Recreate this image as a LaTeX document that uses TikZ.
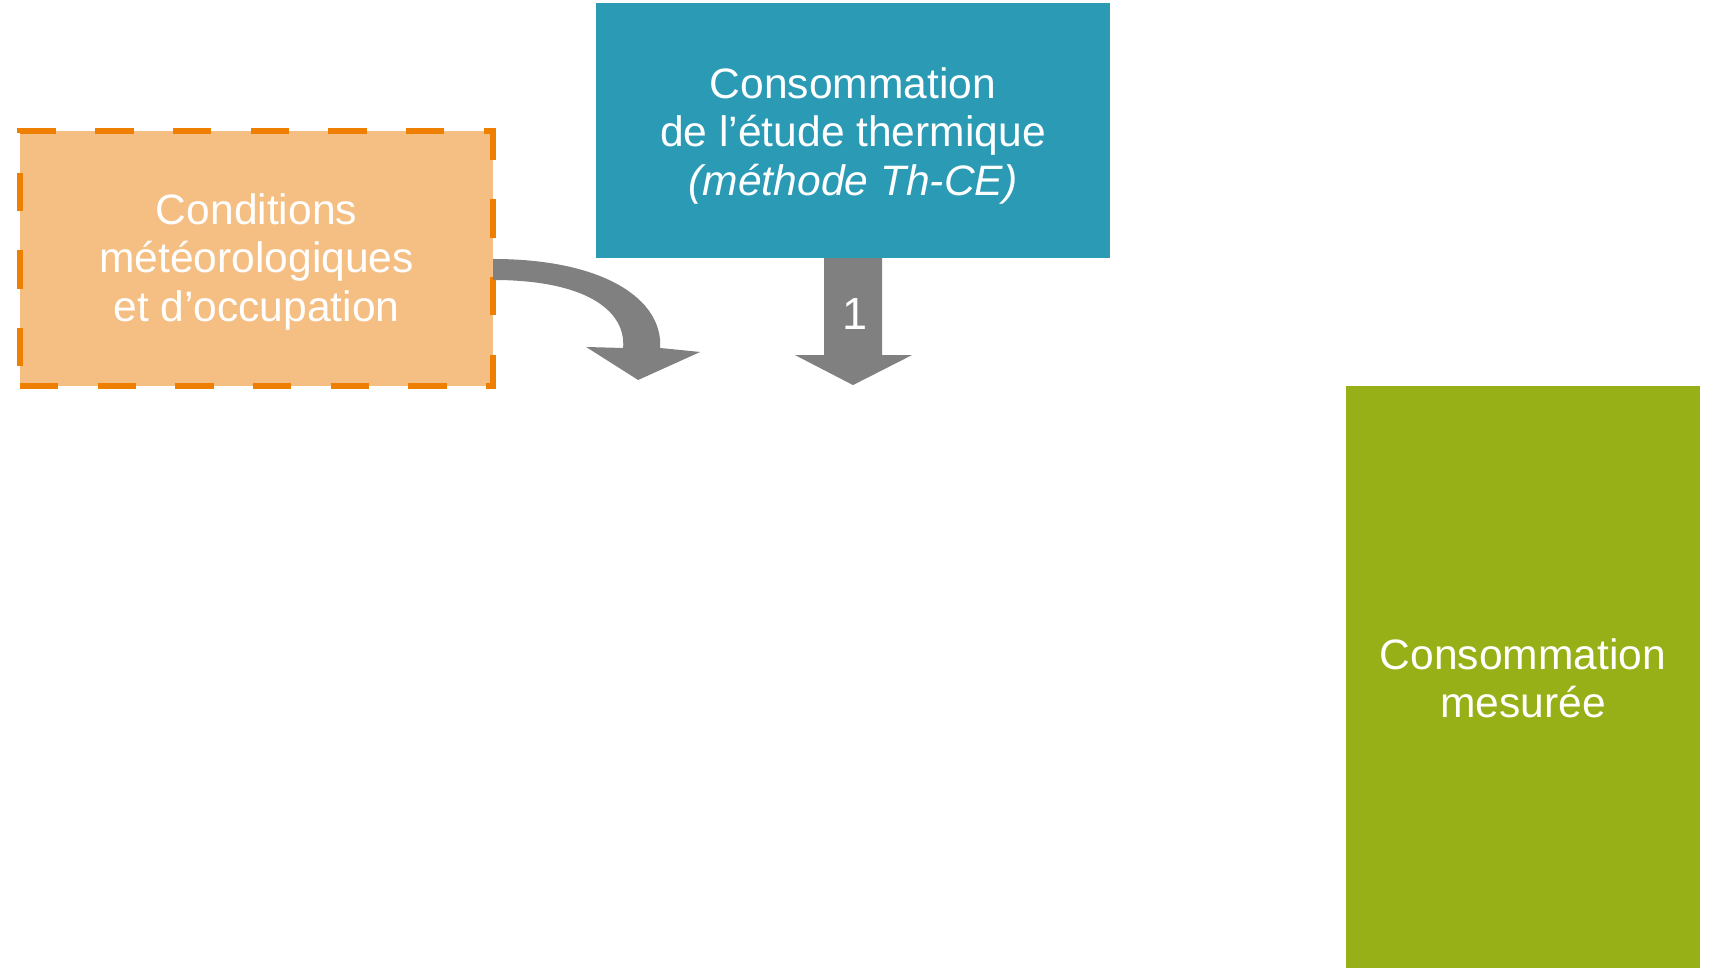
\documentclass[tikz,border=0pt]{standalone}
\usepackage{fontspec}
\setmainfont{Liberation Sans}
\usetikzlibrary{calc}
\definecolor{tealbox}{HTML}{2B9BB5}
\definecolor{orangefill}{HTML}{F5BE83}
\definecolor{orangeline}{HTML}{EE7F00}
\definecolor{greenbox}{HTML}{97B017}
\definecolor{arrowgrey}{HTML}{808080}
\tikzset{
  box/.style={inner sep=0pt, outer sep=0pt},
  boxtext/.style={inner sep=0pt, align=center, text=white,
    font=\fontsize{12.1}{13.7}\selectfont},
  dashbox/.style={box, fill=orangefill, draw=orangeline, line width=1.7pt,
    dash pattern=on 10.9pt off 11.2pt},
  bigarrow/.style={fill=arrowgrey, draw=none},
}
\begin{document}
\begin{tikzpicture}[x=0.01cm, y=-0.01cm]
\useasboundingbox (0,0) rectangle (1712,968);
\fill[white] (0,0) rectangle (1712,968);
\node[dashbox, minimum width=4.73cm, minimum height=2.55cm] (cond) at (256.5,258.5) {};
\node[boxtext] (condtext) at ($(cond.center)+(0,3.5)$)
  {Conditions\\météorologiques\\et d’occupation};
\node[box, fill=tealbox, minimum width=5.14cm, minimum height=2.55cm] (etude) at (853,130.5) {};
\node[boxtext] (etudetext) at ($(etude.center)+(0,5.5)$)
  {Consommation\\de l’étude thermique\\\textit{(méthode Th-CE)}};
\node[box, fill=greenbox, minimum width=3.54cm, minimum height=5.82cm] (mesure) at (1523,677) {};
\node[boxtext] (mesuretext) at ($(mesure.center)+(0,1)$) {Consommation\\mesurée};
% straight arrow
\fill[bigarrow] ($(etude.south)+(-29,0)$) -- ($(etude.south)+(29,0)$)
  -- ($(etude.south)+(29,97)$) -- ($(etude.south)+(59,97)$)
  -- ($(etude.south)+(0,127)$) coordinate (tip1)
  -- ($(etude.south)+(-58,97)$) -- ($(etude.south)+(-29,97)$) -- cycle;
\node[text=white, font=\fontsize{12.8}{14}\selectfont] (one) at ($(etude.south)+(2,56)$) {1};
% curved arrow
\coordinate (c0) at ($(cond.east)+(0,0.5)$);
\fill[bigarrow] (c0) .. controls ($(c0)+(110,0)$) and ($(c0)+(170,40)$) .. ($(c0)+(167,89)$)
  -- ($(c0)+(207,93)$) -- ($(c0)+(145,121)$) coordinate (tip2)
  -- ($(c0)+(93,88)$) -- ($(c0)+(130,89)$)
  .. controls ($(c0)+(133,50)$) and ($(c0)+(90,21)$) .. ($(c0)+(0,21)$) -- cycle;
\end{tikzpicture}
\end{document}
